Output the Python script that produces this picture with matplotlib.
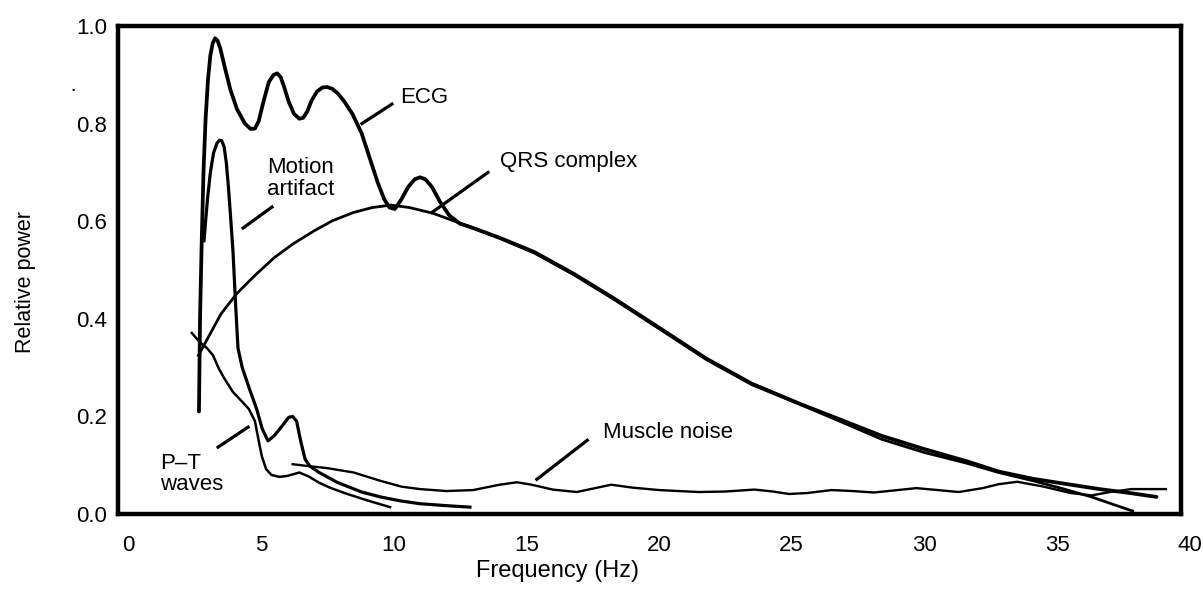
import matplotlib
matplotlib.use("Agg")
import matplotlib.pyplot as plt

plt.rcParams['font.family'] = ['Liberation Sans', 'DejaVu Sans']

# ECG spectrum
ecg_x = [2.67, 2.71, 2.77, 2.84, 2.92, 3.01, 3.10, 3.19, 3.28, 3.37, 3.47, 3.60, 3.85, 4.10,
         4.40, 4.62, 4.78, 4.92, 5.10, 5.30, 5.48, 5.62, 5.75, 5.88, 6.05, 6.25, 6.45, 6.60,
         6.75, 6.92, 7.12, 7.32, 7.50, 7.70, 7.90, 8.15, 8.45, 8.80, 9.10, 9.40, 9.65, 9.85,
         10.05, 10.30, 10.55, 10.80, 11.00, 11.20, 11.45, 11.75, 12.10, 12.50, 12.90, 14.0,
         15.3, 16.8, 18.3, 20.0, 21.8, 23.5, 25.3, 26.9, 28.4, 30.0, 31.6, 32.8, 34.1, 35.4,
         36.6, 37.6, 38.75]
ecg_y = [0.21, 0.40, 0.55, 0.70, 0.81, 0.89, 0.94, 0.965, 0.975, 0.97, 0.955, 0.925, 0.87, 0.83,
         0.80, 0.789, 0.79, 0.805, 0.845, 0.885, 0.90, 0.903, 0.895, 0.875, 0.845, 0.82, 0.81,
         0.812, 0.825, 0.848, 0.866, 0.874, 0.875, 0.871, 0.862, 0.845, 0.82, 0.78, 0.73, 0.68,
         0.645, 0.628, 0.625, 0.645, 0.67, 0.686, 0.69, 0.686, 0.67, 0.64, 0.612, 0.595, 0.588,
         0.566, 0.537, 0.492, 0.442, 0.382, 0.318, 0.267, 0.226, 0.192, 0.160, 0.133, 0.108,
         0.087, 0.072, 0.061, 0.051, 0.044, 0.035]

# QRS complex
qrs_x = [2.65, 3.0, 3.5, 4.1, 4.8, 5.5, 6.2, 7.0, 7.7, 8.5, 9.2, 9.9, 10.6, 11.5, 12.3, 12.9,
         14.0, 15.3, 16.8, 18.3, 20.0, 21.8, 23.5, 25.3, 26.9, 28.4, 30.0, 31.6, 32.8, 34.1,
         35.2, 36.3, 37.2, 37.85]
qrs_y = [0.325, 0.36, 0.41, 0.452, 0.49, 0.525, 0.553, 0.58, 0.601, 0.618, 0.628, 0.633, 0.628,
         0.616, 0.600, 0.588, 0.565, 0.535, 0.49, 0.44, 0.38, 0.316, 0.265, 0.225, 0.188, 0.153,
         0.126, 0.104, 0.085, 0.068, 0.052, 0.035, 0.018, 0.006]

# Motion artifact
motion_x = [2.86, 2.92, 3.00, 3.10, 3.22, 3.35, 3.45, 3.53, 3.62, 3.70, 3.78, 3.86, 3.95, 4.05,
            4.14, 4.30, 4.55, 4.85, 5.05, 5.27, 5.50, 5.80, 6.05, 6.20, 6.35, 6.50, 6.67, 6.85,
            7.20, 7.87, 8.8, 9.5, 10.24, 11.0, 12.0, 12.88]
motion_y = [0.56, 0.60, 0.65, 0.70, 0.74, 0.76, 0.766, 0.765, 0.752, 0.72, 0.67, 0.61, 0.54,
            0.43, 0.34, 0.30, 0.26, 0.214, 0.175, 0.15, 0.16, 0.18, 0.198, 0.20, 0.19, 0.15,
            0.112, 0.098, 0.085, 0.065, 0.045, 0.035, 0.027, 0.021, 0.017, 0.014]

# P-T waves
pt_x = [2.40, 2.70, 2.97, 3.20, 3.40, 3.60, 3.95, 4.30, 4.55, 4.78, 4.92, 5.04, 5.20, 5.40,
        5.70, 6.00, 6.45, 6.80, 7.20, 7.60, 8.20, 9.00, 9.87]
pt_y = [0.371, 0.352, 0.34, 0.325, 0.30, 0.28, 0.25, 0.23, 0.215, 0.19, 0.15, 0.118, 0.092, 0.08,
        0.076, 0.078, 0.085, 0.077, 0.064, 0.054, 0.042, 0.028, 0.014]

# Muscle noise
muscle_x = [6.2, 6.8, 7.5, 8.5, 9.5, 10.3, 11.0, 12.0, 13.0, 14.0, 14.65, 15.2, 16.0, 16.9, 17.6,
            18.2, 19.0, 20.0, 21.5, 22.5, 23.6, 24.3, 24.9, 25.6, 26.5, 27.3, 28.1, 29.0, 29.7,
            30.5, 31.3, 32.2, 32.8, 33.5, 34.5, 35.5, 36.3, 37.0, 37.8, 39.1]
muscle_y = [0.102, 0.098, 0.094, 0.085, 0.068, 0.056, 0.051, 0.047, 0.049, 0.060, 0.065, 0.060,
            0.05, 0.045, 0.053, 0.06, 0.054, 0.049, 0.045, 0.046, 0.05, 0.046, 0.041, 0.043, 0.049,
            0.047, 0.044, 0.049, 0.053, 0.049, 0.045, 0.053, 0.061, 0.066, 0.056, 0.043, 0.038,
            0.045, 0.051, 0.051]

x_ticks = [0, 5, 10, 15, 20, 25, 30, 35, 40]
y_ticks = [0.0, 0.2, 0.4, 0.6, 0.8, 1.0]

# label text, text position, pointer segment
labels = [
    ("ECG", (10.25, 0.853), [(8.81, 9.94), (0.80, 0.84)]),
    ("QRS complex", (14.0, 0.722), [(11.45, 13.56), (0.618, 0.70)]),
    ("Motion\nartifact", (5.24, 0.688), [(4.33, 5.42), (0.586, 0.629)]),
    ("P\u2013T\nwaves", (1.2, 0.082), [(3.39, 4.52), (0.137, 0.178)]),
    ("Muscle noise", (17.9, 0.167), [(15.4, 17.3), (0.071, 0.151)]),
]

fig = plt.figure(figsize=(12.03, 6.01), dpi=100)
ax = fig.add_axes([0.0981, 0.1448, 0.8986, 0.8119])

ax.plot(ecg_x, ecg_y, color="black", lw=2.7, solid_joinstyle="round", solid_capstyle="round")
ax.plot(qrs_x, qrs_y, color="black", lw=2.0, solid_joinstyle="round")
ax.plot(motion_x, motion_y, color="black", lw=2.3, solid_joinstyle="round")
ax.plot(pt_x, pt_y, color="black", lw=1.8, solid_joinstyle="round")
ax.plot(muscle_x, muscle_y, color="black", lw=1.7, solid_joinstyle="round")

for text, (tx, ty), (px, py) in labels:
    ax.text(tx, ty, text, fontsize=16, ha="left", va="center", linespacing=1.05)
    ax.plot(px, py, color="black", lw=2.3)

ax.set_xlim(-0.38, 40.35)
ax.set_ylim(0, 1.0)
ax.set_xticks(x_ticks)
ax.set_xticklabels([str(v) for v in x_ticks])
ax.set_yticks(y_ticks)
ax.set_yticklabels(["%.1f" % v for v in y_ticks])
ax.tick_params(length=0, labelsize=16)
ax.tick_params(axis="x", pad=15)
ax.tick_params(axis="y", pad=8)

for side in ["left", "right", "top", "bottom"]:
    ax.spines[side].set_linewidth(3.2)
    ax.spines[side].set_capstyle("projecting")
ax.spines["right"].set_position(("data", 39.66))
ax.spines["top"].set_bounds(-0.38, 39.66)
ax.spines["bottom"].set_bounds(-0.38, 39.66)

ax.set_xlabel("Frequency (Hz)", fontsize=17)
ax.xaxis.set_label_coords(0.407, -0.094)
ax.set_ylabel("Relative power", fontsize=15.5)
ax.yaxis.set_label_coords(-0.076, 0.475)

ax.text(-2.07, 0.867, "\u00b7", fontsize=16, ha="center", va="center", clip_on=False)

fig.savefig("out.png", dpi=100)
